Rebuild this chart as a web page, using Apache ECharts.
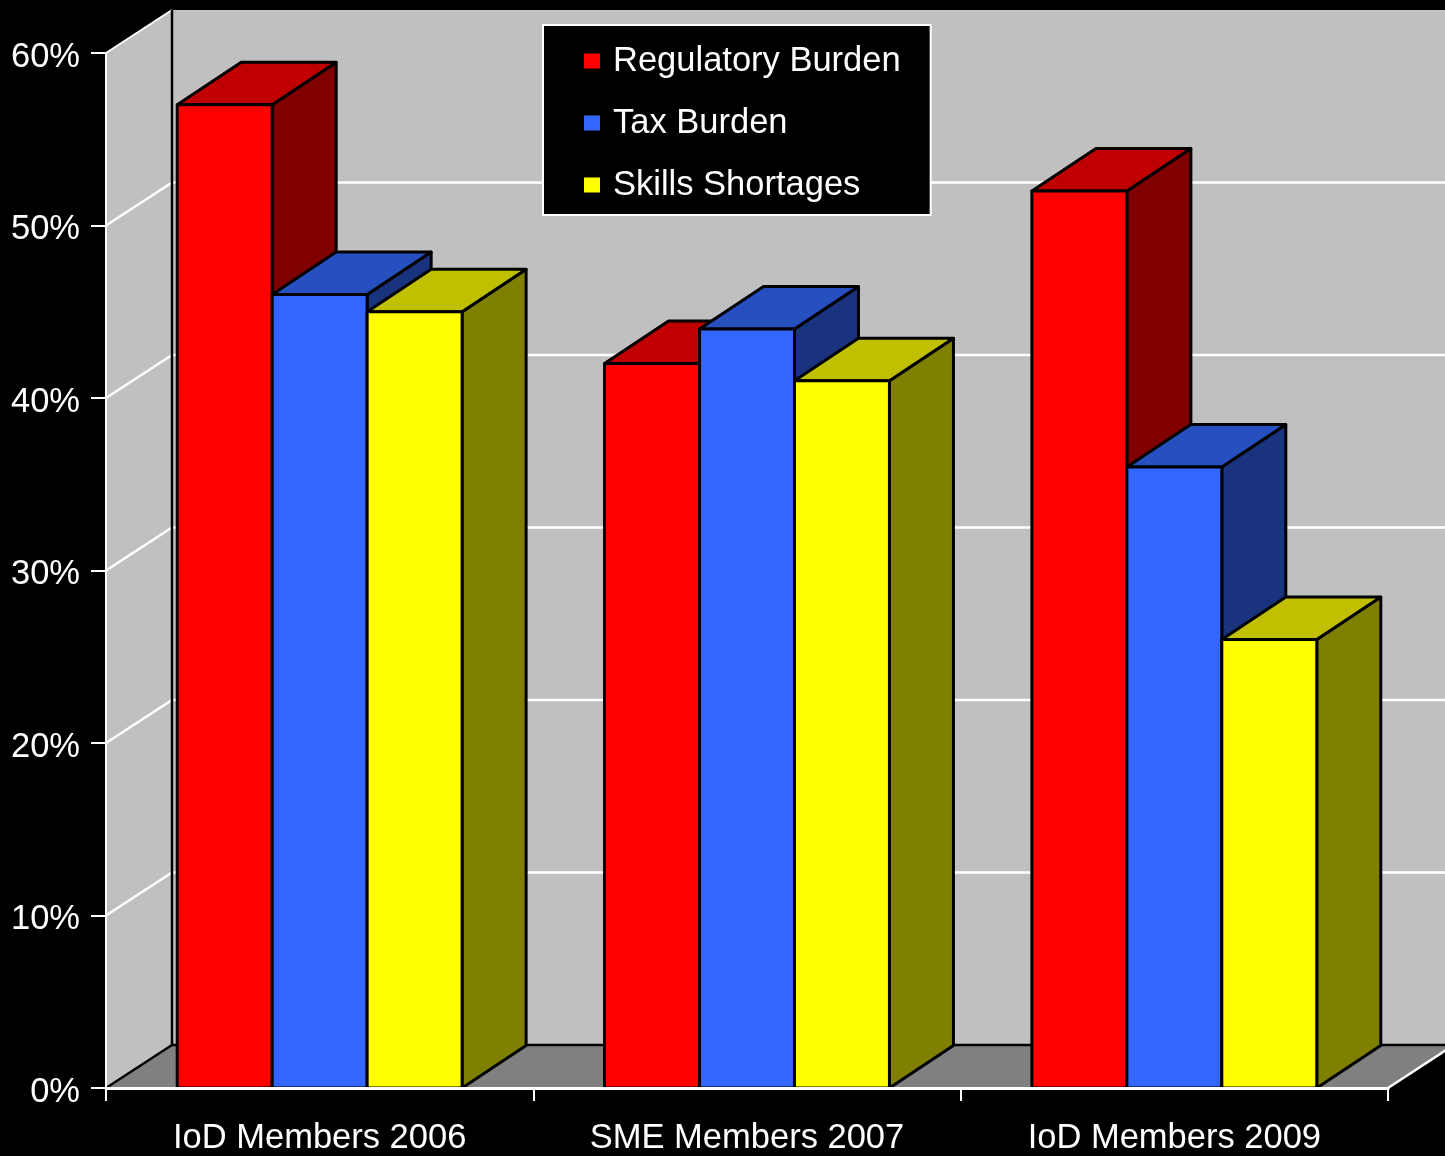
<!DOCTYPE html>
<html>
<head>
<meta charset="utf-8">
<script src="https://cdn.jsdelivr.net/npm/echarts@6/dist/echarts.min.js"></script>
<style>
  html, body { margin: 0; padding: 0; background: #000; }
  #chart { width: 1445px; height: 1156px; }
</style>
</head>
<body>
<div id="chart"></div>
<script>
// Survey groups along the x axis
const categories = ['IoD Members 2006', 'SME Members 2007', 'IoD Members 2009'];
// Series names (legend order)
const seriesNames = ['Regulatory Burden', 'Tax Burden', 'Skills Shortages'];
// Share of respondents citing each issue, in percent
const regulatoryBurden = [57, 42, 52];
const taxBurden = [46, 44, 36];
const skillsShortages = [45, 41, 26];
// Value-axis ticks
const yTicks = [0, 10, 20, 30, 40, 50, 60];

const seriesValues = [regulatoryBurden, taxBurden, skillsShortages];

// Front / top / side shading for each column
const faceColors = [
  { front: '#FF0000', top: '#C00000', side: '#800000' },
  { front: '#3366FF', top: '#2650C0', side: '#1A337F' },
  { front: '#FFFF00', top: '#C0C000', side: '#808000' }
];

// Oblique depth used to fake the 3-D look
const WALL_DX = 66, WALL_DY = -43;
const BAR_DX = 64, BAR_DY = -42.5;
const FONT = "'Liberation Sans', Arial, Helvetica, sans-serif";
const FONT_SIZE = 34.5;

// Side wall, back wall, floor and gridlines behind the columns
function renderWalls(params, api) {
  const cs = params.coordSys;
  const xl = cs.x, xr = cs.x + cs.width;
  const y0 = api.coord([0, yTicks[0]])[1];
  const yTop = api.coord([0, yTicks[yTicks.length - 1]])[1];
  const children = [];
  // side wall
  children.push({
    type: 'polygon',
    shape: { points: [[xl, y0], [xl, yTop], [xl + WALL_DX, yTop + WALL_DY], [xl + WALL_DX, y0 + WALL_DY]] },
    style: { fill: '#C0C0C0' }
  });
  // back wall
  children.push({
    type: 'rect',
    shape: { x: xl + WALL_DX, y: yTop + WALL_DY, width: xr - xl, height: y0 - yTop },
    style: { fill: '#C0C0C0' }
  });
  // floor
  children.push({
    type: 'polygon',
    shape: { points: [[xl, y0], [xl + WALL_DX, y0 + WALL_DY], [xr + WALL_DX, y0 + WALL_DY], [xr, y0]] },
    style: { fill: '#808080' }
  });
  // gridlines
  for (let i = 1; i < yTicks.length - 1; i++) {
    const y = api.coord([0, yTicks[i]])[1];
    children.push({
      type: 'polyline',
      shape: { points: [[xl, y], [xl + WALL_DX, y + WALL_DY], [xr + WALL_DX, y + WALL_DY]] },
      style: { stroke: '#FFFFFF', lineWidth: 2.5, fill: null }
    });
  }
  // top edge of the side wall
  children.push({
    type: 'line',
    shape: { x1: xl, y1: yTop, x2: xl + WALL_DX, y2: yTop + WALL_DY },
    style: { stroke: '#FFFFFF', lineWidth: 2 }
  });
  // corner and floor edges
  children.push({
    type: 'polyline',
    shape: { points: [[xl + WALL_DX, yTop + WALL_DY], [xl + WALL_DX, y0 + WALL_DY], [xr + WALL_DX, y0 + WALL_DY]] },
    style: { stroke: '#000000', lineWidth: 2.5, fill: null }
  });
  children.push({
    type: 'line',
    shape: { x1: xl, y1: y0, x2: xl + WALL_DX, y2: y0 + WALL_DY },
    style: { stroke: '#000000', lineWidth: 2.5 }
  });
  children.push({
    type: 'line',
    shape: { x1: xr, y1: y0, x2: xr + WALL_DX, y2: y0 + WALL_DY },
    style: { stroke: '#FFFFFF', lineWidth: 2.5 }
  });
  return { type: 'group', children: children };
}

// One prism per data point: side, top, then front face
function columnRenderer(idx) {
  return function (params, api) {
    const cat = api.value(0);
    const val = api.value(1);
    const catW = api.size([1, 0])[0];
    const w = catW / 4.5;
    const base = api.coord([cat, 0]);
    const top = api.coord([cat, val]);
    const x0 = base[0] - 1.5 * w + idx * w;
    const x1 = x0 + w;
    const yb = base[1], yt = top[1];
    const c = faceColors[idx];
    const edge = { stroke: '#000000', lineWidth: 3, lineJoin: 'round' };
    return {
      type: 'group',
      children: [
        {
          type: 'polygon',
          shape: { points: [[x1, yb], [x1 + BAR_DX, yb + BAR_DY], [x1 + BAR_DX, yt + BAR_DY], [x1, yt]] },
          style: Object.assign({ fill: c.side }, edge)
        },
        {
          type: 'polygon',
          shape: { points: [[x0, yt], [x0 + BAR_DX, yt + BAR_DY], [x1 + BAR_DX, yt + BAR_DY], [x1, yt]] },
          style: Object.assign({ fill: c.top }, edge)
        },
        {
          type: 'rect',
          shape: { x: x0, y: yt, width: w, height: yb - yt },
          style: Object.assign({ fill: c.front }, edge)
        }
      ]
    };
  };
}

const series = [{
  type: 'custom',
  name: 'walls',
  silent: true,
  z: 1,
  renderItem: renderWalls,
  data: [[0, 0]],
  encode: { x: 0, y: 1 }
}];

seriesNames.forEach(function (name, i) {
  series.push({
    type: 'custom',
    name: name,
    z: 2 + i,
    itemStyle: { color: faceColors[i].front },
    renderItem: columnRenderer(i),
    data: seriesValues[i].map(function (v, k) { return [k, v]; }),
    encode: { x: 0, y: 1 }
  });
});

const chart = echarts.init(document.getElementById('chart'), null, { renderer: 'canvas' });
chart.setOption({
  backgroundColor: '#000000',
  animation: false,
  textStyle: { fontFamily: FONT },
  grid: { left: 106, top: 53, width: 1282, height: 1039, containLabel: false },
  legend: {
    data: seriesNames,
    orient: 'vertical',
    left: 543,
    top: 25,
    icon: 'rect',
    itemWidth: 16,
    itemHeight: 15,
    itemGap: 26,
    padding: [18, 30, 12, 41],
    backgroundColor: '#000000',
    borderColor: '#FFFFFF',
    borderWidth: 2,
    borderRadius: 0,
    itemStyle: { borderWidth: 0 },
    textStyle: { color: '#FFFFFF', fontSize: FONT_SIZE, fontFamily: FONT, lineHeight: 36, padding: [0, 0, 0, 8] }
  },
  xAxis: {
    type: 'category',
    data: categories,
    z: 10,
    axisLine: { show: true, lineStyle: { color: '#FFFFFF', width: 3 } },
    axisTick: { show: true, length: 13, lineStyle: { color: '#FFFFFF', width: 2 } },
    axisLabel: { color: '#FFFFFF', fontSize: FONT_SIZE, fontFamily: FONT, margin: 33 },
    splitLine: { show: false }
  },
  yAxis: {
    type: 'value',
    min: yTicks[0],
    max: yTicks[yTicks.length - 1],
    interval: yTicks[1] - yTicks[0],
    z: 10,
    axisLine: { show: true, lineStyle: { color: '#FFFFFF', width: 2 } },
    axisTick: { show: true, length: 15, lineStyle: { color: '#FFFFFF', width: 2 } },
    axisLabel: {
      color: '#FFFFFF', fontSize: FONT_SIZE, fontFamily: FONT, margin: 26,
      formatter: '{p|{value}%}',
      rich: { p: { color: '#FFFFFF', fontSize: FONT_SIZE, fontFamily: FONT, padding: [8, 0, 0, 0] } }
    },
    splitLine: { show: false }
  },
  series: series
});
</script>
</body>
</html>
